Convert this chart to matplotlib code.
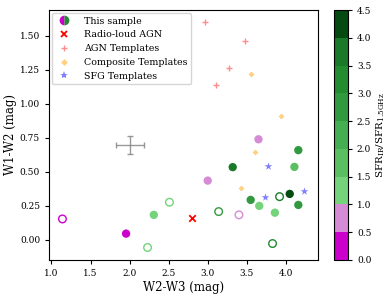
import numpy as np
import matplotlib.pyplot as plt
from matplotlib.colors import ListedColormap, BoundaryNorm
from matplotlib.lines import Line2D

plt.rcParams['font.family'] = 'DejaVu Serif'
plt.rcParams['mathtext.fontset'] = 'dejavuserif'

# this sample, filled circles (W2-W3, W1-W2, SFR ratio)
fill_x = np.array([1.955, 2.31, 3.00, 3.32, 3.55, 3.65, 3.66, 3.86, 4.05, 4.11, 4.16, 4.16])
fill_y = np.array([0.046, 0.184, 0.436, 0.535, 0.294, 0.74, 0.25, 0.20, 0.338, 0.537, 0.66, 0.257])
fill_q = np.array([0.3, 1.3, 0.8, 3.7, 2.8, 0.8, 1.3, 1.4, 4.2, 1.7, 2.7, 2.7])

# this sample, open circles
open_x = np.array([1.14, 2.23, 2.51, 3.14, 3.40, 3.83, 3.92])
open_y = np.array([0.154, -0.056, 0.277, 0.208, 0.184, -0.027, 0.318])
open_q = np.array([0.3, 1.2, 1.2, 2.6, 0.7, 3.3, 3.6])

rl_x = [2.80]
rl_y = [0.16]

agn_x = [2.96, 3.48, 3.27, 3.11]
agn_y = [1.60, 1.46, 1.265, 1.14]

comp_x = [3.55, 3.94, 3.61, 3.43]
comp_y = [1.22, 0.91, 0.65, 0.38]

sfg_x = [3.77, 3.73, 4.23]
sfg_y = [0.54, 0.318, 0.36]

bounds = np.arange(0, 4.51, 0.5)
colors = ['#cc00cc', '#d68bd6', '#74d37b', '#5bbf62', '#45ad52',
          '#319a40', '#238b30', '#1a7a29', '#054a10']
cmap = ListedColormap(colors)
norm = BoundaryNorm(bounds, cmap.N)

fig = plt.figure(figsize=(3.9, 2.98), dpi=100)
ax = fig.add_axes([0.126, 0.128, 0.689, 0.838])
cax = fig.add_axes([0.857, 0.128, 0.035, 0.838])

ax.errorbar(2.0, 0.70, xerr=0.18, yerr=0.066, color='gray', lw=1,
            capsize=2, alpha=0.8)

ax.scatter(agn_x, agn_y, marker='+', s=22, color='red', alpha=0.45, lw=1)
ax.scatter(comp_x, comp_y, marker='D', s=9, color='orange', alpha=0.5, lw=0)
ax.scatter(sfg_x, sfg_y, marker='*', s=34, color='blue', alpha=0.5, lw=0)
ax.scatter(rl_x, rl_y, marker='x', s=22, color='red', lw=1.3)

sc = ax.scatter(fill_x, fill_y, c=fill_q, cmap=cmap, norm=norm, s=36, lw=0)
ax.scatter(open_x, open_y, facecolors='none', edgecolors=cmap(norm(open_q)),
           s=30, lw=1)

ax.set_xlim(0.97, 4.41)
ax.set_ylim(-0.147, 1.69)
ax.set_xticks(np.arange(1.0, 4.01, 0.5))
ax.set_yticks(np.arange(0.0, 1.51, 0.25))
ax.set_xticklabels([f'{v:.1f}' for v in np.arange(1.0, 4.01, 0.5)])
ax.set_yticklabels([f'{v:.2f}' for v in np.arange(0.0, 1.51, 0.25)])
ax.tick_params(labelsize=6.5, length=3)
ax.set_xlabel('W2-W3 (mag)', fontsize=8.5, labelpad=2)
ax.set_ylabel('W1-W2 (mag)', fontsize=8.5, labelpad=2)

handles = [
    Line2D([], [], ls='none', marker='o', ms=7, fillstyle='left',
           markerfacecolor='#cc00cc', markerfacecoloralt='#238b30',
           markeredgewidth=0),
    Line2D([], [], ls='none', marker='x', ms=5, color='red', mew=1.3),
    Line2D([], [], ls='none', marker='+', ms=5, color='red', alpha=0.45, mew=1),
    Line2D([], [], ls='none', marker='D', ms=3.5, color='orange', alpha=0.5, mew=0),
    Line2D([], [], ls='none', marker='*', ms=6, color='blue', alpha=0.5, mew=0),
]
labels = ['This sample', 'Radio-loud AGN', 'AGN Templates',
          'Composite Templates', 'SFG Templates']
ax.legend(handles, labels, loc='upper left', fontsize=6.8,
          handletextpad=1.2, labelspacing=0.5, borderpad=0.4,
          borderaxespad=0.3, handlelength=1.8)

cb = fig.colorbar(sc, cax=cax, boundaries=bounds, ticks=bounds)
cb.ax.set_yticklabels([f'{v:.1f}' for v in bounds])
cb.ax.tick_params(labelsize=6.5, length=3)
cb.set_label(r'SFR$_{\rm IR}$/SFR$_{\rm 1.5GHz}$', fontsize=7.5, labelpad=2)

fig.savefig('out.png', dpi=100)
